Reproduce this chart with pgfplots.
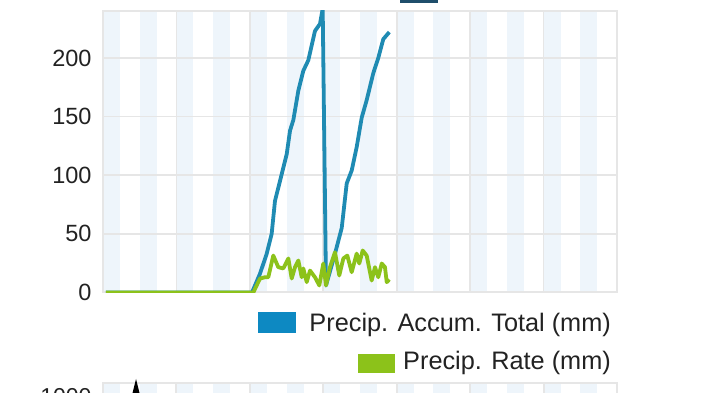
\documentclass[border=0pt]{standalone}
\usepackage{pgfplots}
\pgfplotsset{compat=1.18}
\usepackage{fontspec}
\setmainfont{Liberation Sans}
\definecolor{gridc}{HTML}{E6E6E6}
\definecolor{bandc}{HTML}{EEF5FB}
\definecolor{blueline}{HTML}{1F8BB3}
\definecolor{bluebox}{HTML}{0D89C2}
\definecolor{greenline}{HTML}{8CC21A}
\definecolor{greenbox}{HTML}{8CC21A}
\definecolor{txt}{HTML}{222222}
\definecolor{topbox}{HTML}{1F4E6B}
\begin{document}
\begin{tikzpicture}[x=1pt,y=1pt]
\useasboundingbox (0pt,0pt) rectangle (720pt,393pt);
\clip (0pt,0pt) rectangle (720pt,393pt);
% background bands of the main panel
\foreach \k in {0,...,13} {
  \fill[bandc] ({103+\k*36.714},100.5) rectangle ({120+\k*36.714},382);
}
% sliver of the legend of the chart above
\fill[topbox] (400,390) rectangle (438,393);
% top of the chart below
\foreach \k in {0,...,13} {
  \fill[bandc] ({103+\k*36.714},0) rectangle ({120+\k*36.714},9);
}
\foreach \k in {0,...,7} {
  \draw[gridc, line width=2pt] ({103+\k*73.43},0) -- ({103+\k*73.43},10);
}
\draw[gridc, line width=2pt] (102,10) -- (618,10);
\node[anchor=north east, inner sep=0pt, text=txt, font=\fontsize{23}{23}\selectfont] at (91.7,5) {1000};
\fill[black] (136,14) -- (132.5,0) -- (139.5,0) -- cycle;
\begin{axis}[
  at={(103pt,100.5pt)}, anchor=south west,
  scale only axis, width=514pt, height=281.5pt,
  xmin=0, xmax=7, ymin=0, ymax=240,
  xtick={0,...,7}, xticklabels={},
  ytick={0,50,100,150,200},
  grid=major,
  major grid style={gridc, line width=1.6pt},
  axis line style={gridc, line width=2pt},
  major tick length=0pt,
  /pgf/number format/assume math mode=true,
  yticklabel style={font=\fontsize{23.5}{23.5}\selectfont, text=txt, inner sep=0pt, anchor=east, xshift=-11.3pt},
  clip=true,
]
\addplot[blueline, line width=3.8pt, line join=round] coordinates {
(0.04,0) (2.029,0) (2.138,16) (2.229,33) (2.297,50) (2.342,78) (2.410,95) (2.502,118) (2.547,138) (2.592,147) (2.660,172) (2.728,189) (2.796,198) (2.887,223) (2.955,229) (2.992,242) (3.037,6) (3.159,33) (3.251,55) (3.319,93) (3.387,104) (3.455,124) (3.523,149) (3.591,164) (3.681,187) (3.749,200) (3.817,216) (3.899,222)
};
\addplot[greenline, line width=3.8pt, line join=round] coordinates {
(0.04,0) (2.047,0) (2.138,11.9) (2.206,13) (2.251,13) (2.319,31.5) (2.387,21.6) (2.455,20.5) (2.524,29) (2.570,11.9) (2.615,21.6) (2.660,27.3) (2.706,13) (2.728,20.5) (2.774,8.8) (2.819,18.7) (2.887,13) (2.946,6) (3.000,24.7) (3.037,6) (3.091,21.6) (3.159,34.3) (3.218,14.5) (3.273,29) (3.327,31.5) (3.387,17.3) (3.455,33.2) (3.490,24.7) (3.537,35.8) (3.591,31.5) (3.659,10.2) (3.704,21.6) (3.749,13) (3.796,24.7) (3.840,21.6) (3.864,8.8) (3.899,11.1)
};
\end{axis}
% legend
\fill[bluebox] (258,60) rectangle (296,80.5);
\node[anchor=base east, inner sep=0pt, text=txt, font=\fontsize{25.3}{25.3}\selectfont] at (611,61.5) {Precip. Accum. Total (mm)};
\fill[greenbox] (358,20) rectangle (395,38.5);
\node[anchor=base east, inner sep=0pt, text=txt, font=\fontsize{25.3}{25.3}\selectfont] at (611,23) {Precip. Rate (mm)};
\end{tikzpicture}
\end{document}
